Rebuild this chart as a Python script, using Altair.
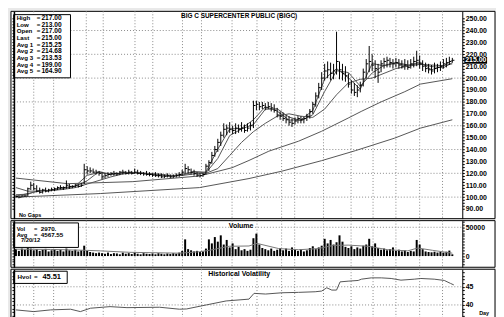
import altair as alt
import pandas as pd

# ---------------- data ----------------
high = [101.5, 101, 101.5, 102, 108, 113, 112, 110, 108, 107,
        108, 107, 108, 108, 109, 110, 109, 114, 111, 110,
        111, 111, 112, 128, 126, 125, 124, 123, 122, 121,
        120, 121, 121, 122, 121, 122, 123, 122, 123, 122,
        124, 123, 122, 121, 122, 121, 120, 121, 120, 120,
        119, 120, 119, 119, 120, 121, 123, 128, 126, 124,
        123, 121, 120, 120, 128, 131, 138, 143, 149, 155,
        162, 161, 163, 160, 162, 161, 163, 161, 162, 163,
        181, 181, 180, 180, 179, 180, 179, 178, 175, 172,
        171, 169, 168, 166, 167, 168, 168, 167, 170, 174,
        180, 188, 196, 205, 212, 214, 213, 212, 239, 214,
        212, 210, 204, 198, 196, 194, 197, 208, 216, 227,
        220, 215, 212, 215, 217, 218, 217, 216, 217, 216,
        215, 216, 215, 216, 218, 223, 219, 215, 213, 212,
        211, 213, 212, 214, 216, 217, 218, 217]
low = [99.5, 99, 99.5, 100, 100.5, 106, 106, 104, 103, 103,
       104, 104, 105, 105, 106, 106.5, 106, 107, 107, 107.5,
       108, 108, 108.5, 111, 119, 120, 120, 119, 118, 115,
       116, 117, 118, 118, 118, 118.5, 119, 119, 119, 119,
       119.5, 119, 118.5, 118, 118, 117.5, 117, 117, 116.5, 116,
       116, 116.5, 116, 116, 116.5, 117, 118, 120, 120, 119,
       118, 117, 116.5, 117, 119, 122, 128, 134, 138, 143,
       150, 152, 154, 153, 153, 154, 155, 154, 155, 156,
       158, 173, 173, 174, 173, 174, 172, 171, 167, 165,
       164, 162, 160, 159, 161, 162, 162, 162, 164, 166,
       170, 176, 183, 190, 198, 200, 198, 199, 203, 199,
       198, 197, 192, 187, 185, 184, 188, 193, 200, 205,
       206, 200, 196, 205, 208, 209, 209, 208, 209, 208,
       208, 207, 207, 208, 209, 210, 208, 206, 205, 204,
       203, 204, 205, 206, 208, 209, 211, 213]
close = [100.5, 100, 101, 101, 107, 110, 107, 105, 104, 106,
         105, 106, 106.5, 107, 108, 108, 108, 110, 109, 109,
         110, 109, 110, 123, 122, 122, 121, 121, 120, 117,
         118, 119, 120, 120, 119.5, 121, 121, 120, 121, 120,
         121, 120, 120, 119.5, 119, 119, 118.5, 118, 118, 117,
         117.5, 118, 117, 117.5, 118, 119, 121, 124, 123, 121,
         120, 118.5, 118, 119, 126, 129, 135, 140, 146, 152,
         157, 158, 157, 156, 158, 157, 158, 156, 158, 160,
         177, 178, 176, 177, 175, 176, 175, 173, 169, 168,
         166, 165, 163, 162, 164, 166, 165, 166, 168, 172,
         178, 185, 192, 200, 206, 207, 204, 206, 214, 207,
         204, 202, 195, 190, 188, 190, 194, 205, 212, 214,
         211, 208, 205, 212, 214, 215, 213, 212, 213, 211,
         210, 211, 209, 212, 214, 215, 212, 210, 208, 207,
         206, 208, 209, 210, 212, 213, 214, 215]
volume = [12000, 9000, 13000, 11000, 14000, 13000, 10000, 12000, 9000, 11000,
          12500, 8000, 10000, 12000, 9000, 11000, 8000, 13000, 10000, 9000,
          11000, 8000, 10000, 18000, 9000, 7000, 6000, 5000, 6000, 5000,
          4000, 6000, 3500, 5000, 4500, 3000, 6000, 4000, 5000, 3500,
          6500, 4000, 3000, 5000, 4000, 3500, 4500, 3000, 5000, 4000,
          3000, 4500, 3500, 5000, 4000, 6000, 9000, 29000, 12000, 10000,
          8000, 9000, 7000, 8000, 13000, 29000, 22000, 33000, 25000, 36000,
          20000, 28000, 15000, 22000, 12000, 16000, 10000, 12000, 9000, 11000,
          31000, 39000, 20000, 14000, 12000, 10000, 13000, 9000, 11000, 14000,
          10000, 13000, 9000, 15000, 11000, 9000, 12000, 8000, 10000, 14000,
          17000, 12000, 15000, 18000, 30000, 22000, 28000, 20000, 24000, 36000,
          25000, 16000, 14000, 17000, 12000, 15000, 13000, 18000, 20000, 30000,
          17000, 22000, 14000, 11000, 13000, 10000, 12000, 15000, 9000, 11000,
          8000, 10000, 7000, 9000, 8000, 28000, 20000, 12000, 8000, 7000,
          6500, 7500, 6000, 7000, 6000, 7500, 9500, 2970]

ma_index = [0, 4, 8, 12, 16, 20, 24, 28, 32, 36, 40, 44, 48, 52, 56, 60, 64, 68, 72,
            76, 80, 84, 88, 92, 96, 100, 104, 108, 112, 116, 120, 124, 128, 132, 136,
            140, 144, 147]
avg1 = [100.8, 103, 105.3, 105.8, 108, 109.3, 118.3, 120.7, 119, 120.5, 120.7, 119.5,
        118.2, 117.5, 119.3, 121.3, 121, 140.3, 157.3, 157.7, 165, 176, 172.3, 164.7,
        165, 172.7, 199.3, 208, 200.3, 190.7, 212.3, 210.3, 212.7, 210, 213.7, 207,
        210.3, 215]
avg2 = [102, 102.5, 105.7, 105.4, 107.3, 109, 113.8, 121.5, 119.2, 120, 120.7, 119.9,
        118.7, 117.6, 118.4, 121.3, 120.4, 132.5, 151.7, 157.3, 161, 173.8, 174.2, 167.3,
        164.2, 169.2, 188.8, 206.2, 204.7, 193.2, 204.3, 210.7, 213.2, 211, 212.2, 209.7,
        208.7, 213]
avg3 = [108, 105, 105, 105.5, 106.5, 108, 111, 114, 117, 119.5, 120.3, 120, 119.3,
        118.3, 118.2, 119.5, 120, 124, 135, 146, 155, 162, 168, 170, 168, 167, 174, 186,
        196, 199, 200, 204, 208, 210, 211.5, 211, 210.5, 212]
avg4_index = [0, 17.4, 39.4, 61.8, 72.8, 78.5, 85.2, 95.2, 102.9, 111.9, 116.3, 123, 131,
              136.3, 147]
avg4 = [116, 111.3, 113, 117.75, 124.7, 130.8, 138.6, 147, 155.25, 166.4, 172, 180,
        188.6, 195, 199.5]
avg5_index = [0, 28.4, 61.8, 78.5, 89.5, 102.9, 114.3, 127.6, 136.3, 147]
avg5 = [100, 103, 108, 115.6, 121.75, 130.6, 139, 149.6, 158, 165]

vol_avg_index = [0, 11.7, 23.4, 28.4, 38.4, 55.1, 61.8, 65.2, 71.8, 78.5, 81.2, 88.5,
                 95.2, 101.9, 106.9, 111.9, 118.6, 125.3, 132, 135.3, 140.3, 147]
vol_avg = [12000, 11500, 10000, 9000, 6500, 5000, 7500, 10000, 17000, 17500, 22000,
           13000, 11000, 13000, 18500, 19000, 17000, 11000, 9000, 14000, 10000, 5000]

hvol_index = [0, 6.0, 11.7, 18.4, 21.7, 25.1, 31.7, 37.4, 48.4, 55.1, 57.5, 64.1, 70.8,
              78.5, 80.2, 84.1, 89.6, 95.2, 100.8, 103.0, 104.7, 106.4, 108.0, 109.2,
              111.9, 115.3, 116.4, 119.7, 123.1, 126.4, 129.7, 134.2, 136.4, 140.9,
              144.3, 146.4, 147.5]
hvol = [38.64, 38.17, 38.64, 38.83, 38.17, 39.1, 39.54, 39.26, 39.37, 38.83, 38.9, 40.0,
        41.1, 41.6, 43.19, 43.0, 43.35, 43.46, 43.63, 43.82, 44.72, 44.09, 44.09, 46.35,
        46.54, 46.74, 47.09, 47.45, 47.45, 47.28, 46.82, 47.09, 47.28, 47.09, 46.74,
        45.92, 45.51]

grid_index = [6.0, 12.7, 23.7, 29.4, 40.1, 46.1, 56.1, 62.5, 72.8, 81.2, 89.5, 93.9,
              103.6, 112.9, 120.3, 128.0, 136.0, 143.7]
price_grid = [100, 120, 140, 160, 180, 200, 220, 240]
price_ticks = [90 + 2.5 * k for k in range(65)]
vol_grid = [50000]
vol_ticks = [-15000 + 5000 * k for k in range(16)]
hvol_grid = [40, 45]
hvol_ticks = [33 + k for k in range(17)]

title_text = "BIG  C  SUPERCENTER  PUBLIC  (BIGC)"
info_names = ["High", "Low", "Open", "Last", "Avg 1", "Avg 2", "Avg 3", "Avg 4", "Avg 5"]
info_values = ["217.00", "213.00", "217.00", "215.00", "215.25", "214.68", "213.53",
               "199.00", "164.90"]
last_price = 215.0
vol_names = ["Vol", "Avg"]
vol_values = ["2970.", "4567.55"]
vol_date = "7/20/12"
hvol_name = "Hvol"
hvol_value = "45.51"

# ---------------- layout (pixels inside the single view) ----------------
FONT = "Liberation Sans"
W, H = 488, 325
PRICE_TOP, PRICE_BOT = 0, 209
VOL_TOP, VOL_BOT = 211, 258
HV_TOP, HV_BOT = 260, 325
X_DOMAIN = [-1.67, 161.38]
GRID_COLOR = "#8a8a8a"

xs = alt.Scale(domain=X_DOMAIN, nice=False, zero=False)
X = alt.X("i:Q", scale=xs, axis=None)
ps = alt.Scale(domain=[81.9, 256.1], range=[PRICE_BOT, PRICE_TOP], nice=False, zero=False)
vs = alt.Scale(domain=[-19483, 61552], range=[VOL_BOT, VOL_TOP], nice=False, zero=False)
hs = alt.Scale(domain=[32.09, 49.82], range=[HV_BOT, HV_TOP], nice=False, zero=False)

one = pd.DataFrame({"k": [0]})
bars = pd.DataFrame({"i": list(range(len(close))), "high": high, "low": low, "close": close})
bars["i_tick"] = bars["i"] + 0.7
vol_df = pd.DataFrame({"i": list(range(len(volume))), "vol": volume})
ma_rows = []
for name, idx, vals in [("Avg 1", ma_index, avg1), ("Avg 2", ma_index, avg2),
                        ("Avg 3", ma_index, avg3), ("Avg 4", avg4_index, avg4),
                        ("Avg 5", avg5_index, avg5)]:
    for a, b in zip(idx, vals):
        ma_rows.append({"ma": name, "i": a, "v": b})
ma_df = pd.DataFrame(ma_rows)
grid_df = pd.DataFrame({"i": grid_index})
vol_avg_df = pd.DataFrame({"i": vol_avg_index, "v": vol_avg})
hvol_df = pd.DataFrame({"i": hvol_index, "v": hvol})


def right_axis(values, expr):
    return alt.Axis(orient="right", offset=-33, values=values, labelExpr=expr,
                    tickSize=2, tickColor="black", domainColor="black", grid=False,
                    title=None, labelFont=FONT, labelFontSize=7, labelFontWeight="bold",
                    labelColor="black", labelPadding=1, labelOverlap=False,
                    labelFlush=False, labelBound=False, zindex=2)


def left_axis(values):
    return alt.Axis(orient="left", offset=-3, values=values, labels=False, tickSize=2,
                    tickColor="black", domainColor="black", domainWidth=1.5, grid=False,
                    title=None, zindex=2)


def panel(y1, y2):
    return alt.Chart(one).mark_rect(fill="white", stroke="black", strokeWidth=1).encode(
        x=alt.value(0), x2=alt.value(W), y=alt.value(y1), y2=alt.value(y2))


def vgrid(y1, y2):
    return alt.Chart(grid_df).mark_rule(color=GRID_COLOR, strokeDash=[1, 2]).encode(
        x=X, y=alt.value(y1), y2=alt.value(y2))


def hgrid(vals, scale):
    return alt.Chart(pd.DataFrame({"g": vals})).mark_rule(
        color=GRID_COLOR, strokeDash=[1, 2]).encode(
        y=alt.Y("g:Q", scale=scale, axis=None), x=alt.value(3), x2=alt.value(455))


def box(x1, x2, y1, y2):
    return alt.Chart(one).mark_rect(fill="white", stroke="black", strokeWidth=1).encode(
        x=alt.value(x1), x2=alt.value(x2), y=alt.value(y1), y2=alt.value(y2))


def label(t, x, y, size=7, align="left"):
    return alt.Chart(one).mark_text(
        align=align, baseline="middle", font=FONT, fontSize=size, fontWeight="bold",
        color="black").encode(x=alt.value(x), y=alt.value(y), text=alt.value(t))


def rows(df, field, x, y_first, y_last, size):
    n = len(df)
    return alt.Chart(df).mark_text(
        align="left", baseline="middle", font=FONT, fontSize=size, fontWeight="bold",
        color="black").encode(
        x=alt.value(x),
        y=alt.Y("k:Q", scale=alt.Scale(domain=[0, n - 1], range=[y_first, y_last]),
                axis=None),
        text=f"{field}:N")


info_df = pd.DataFrame({"k": list(range(len(info_names))), "name": info_names,
                        "eq": ["="] * len(info_names), "val": info_values})
vol_info_df = pd.DataFrame({"k": list(range(len(vol_names))), "name": vol_names,
                            "eq": ["="] * len(vol_names), "val": vol_values})
last_df = pd.DataFrame({"hi": [last_price + 2.9], "lo": [last_price - 2.9], "p": [last_price]})

layers = [
    # panel frames
    panel(PRICE_TOP, PRICE_BOT), panel(VOL_TOP, VOL_BOT), panel(HV_TOP, HV_BOT + 10),
    # price panel
    vgrid(PRICE_TOP, PRICE_BOT),
    hgrid(price_grid, ps),
    alt.Chart(ma_df).mark_line(color="#555555", strokeWidth=1).encode(
        x=X, y=alt.Y("v:Q", scale=ps, axis=None), detail="ma:N"),
    alt.Chart(bars).mark_rule(color="black", strokeWidth=1).encode(
        x=X, y=alt.Y("low:Q", scale=ps,
                     axis=right_axis(price_ticks,
                                     "datum.value % 10 == 0 ? format(datum.value, '.2f') : ''")),
        y2="high:Q"),
    alt.Chart(bars).mark_rule(color="black", strokeWidth=1).encode(
        x=X, x2="i_tick:Q", y=alt.Y("close:Q", scale=ps, axis=left_axis(price_ticks))),
    alt.Chart(last_df).mark_rect(color="black").encode(
        x=alt.value(457), x2=alt.value(480),
        y=alt.Y("hi:Q", scale=ps, axis=None), y2="lo:Q"),
    alt.Chart(last_df).mark_text(font=FONT, fontSize=7, fontWeight="bold", color="white",
                                 align="left", baseline="middle").encode(
        x=alt.value(458), y=alt.Y("p:Q", scale=ps, axis=None),
        text=alt.Text("p:Q", format=".2f")),
    box(2.7, 60, 3.3, 67),
    rows(info_df, "name", 5.7, 6.7, 60.3, 6.2),
    rows(info_df, "eq", 26, 6.7, 60.3, 6.2),
    rows(info_df, "val", 30.7, 6.7, 60.3, 6.7),
    label(title_text, 230, 5, size=6.5, align="center"),
    label("No  Gaps", 8, 205.5, size=5.5),
    # volume panel
    vgrid(VOL_TOP, VOL_BOT),
    hgrid(vol_grid, vs),
    alt.Chart(vol_df).mark_rule(color="black", strokeWidth=2).encode(
        x=X, y=alt.Y("vol:Q", scale=vs,
                     axis=right_axis(vol_ticks,
                                     "datum.value == 0 || datum.value == 50000 ? format(datum.value, 'd') : ''")),
        y2=alt.datum(0)),
    alt.Chart(vol_avg_df).mark_line(color="#777777", strokeWidth=1).encode(
        x=X, y=alt.Y("v:Q", scale=vs, axis=left_axis(vol_ticks))),
    box(2.7, 68, VOL_TOP + 2.3, VOL_TOP + 27),
    rows(vol_info_df, "name", 5.7, VOL_TOP + 8.0, VOL_TOP + 14.0, 5.8),
    rows(vol_info_df, "eq", 23.3, VOL_TOP + 8.0, VOL_TOP + 14.0, 5.8),
    rows(vol_info_df, "val", 30, VOL_TOP + 8.0, VOL_TOP + 14.0, 6.3),
    label(vol_date, 10, VOL_TOP + 20.0, size=5.8),
    label("Volume", 232, VOL_TOP + 5.7, size=7, align="center"),
    # historical volatility panel
    vgrid(HV_TOP, HV_BOT + 10),
    hgrid(hvol_grid, hs),
    alt.Chart(hvol_df).mark_line(color="#555555", strokeWidth=1).encode(
        x=X, y=alt.Y("v:Q", scale=hs,
                     axis=right_axis(hvol_ticks,
                                     "datum.value == 40 || datum.value == 45 ? format(datum.value, 'd') : ''"))),
    alt.Chart(hvol_df).mark_line(opacity=0).encode(
        x=X, y=alt.Y("v:Q", scale=hs, axis=left_axis(hvol_ticks))),
    box(2.7, 56.7, HV_TOP + 2, HV_TOP + 14.3),
    label(hvol_name, 6.7, HV_TOP + 7.7, size=6.3),
    label("=", 23.3, HV_TOP + 7.7, size=6.3),
    label(hvol_value, 31.7, HV_TOP + 7.7, size=7.5),
    label("Historical  Volatility", 230, HV_TOP + 5.3, size=7, align="center"),
    label("Day", 472, HV_TOP + 43.7, size=5.5),
]

chart = alt.layer(*layers).resolve_scale(y="independent").resolve_axis(
    y="independent").properties(
    width=W, height=H,
    padding={"left": 2, "top": 1, "right": 0, "bottom": 0},
    background="#e9e9e9",
).configure_view(strokeOpacity=0)

chart.save("out.html", embed_options={"renderer": "svg", "actions": False})
